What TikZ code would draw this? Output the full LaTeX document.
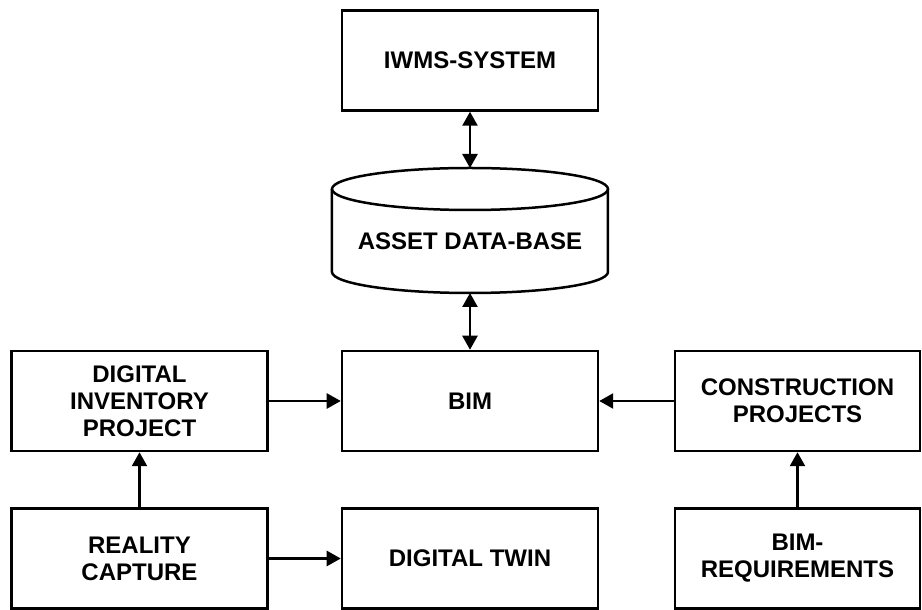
\documentclass[tikz,border=0pt]{standalone}
\usepackage{fontspec}
\setmainfont{Liberation Sans}
\usetikzlibrary{positioning,arrows.meta}
\begin{document}
\begin{tikzpicture}[
        node distance=330pt,  % Distance between the nodes
        >={Triangle[length=14pt,width=15pt]}, % Arrow style
        line width=2.5pt,
        every node/.style={draw, rectangle, line width=2.5pt, minimum height=100pt, minimum width=256pt, align=center, font=\fontsize{24pt}{27pt}\selectfont\bfseries}
    ]
    \useasboundingbox (-470pt,401pt) rectangle (452pt,-209pt);

    % Middle row
    \node (bim) {BIM};
    \node (inventory) [node distance=330.5pt, left of=bim] {DIGITAL\\INVENTORY\\PROJECT};
    \node (construction) [node distance=327.5pt, right of=bim, minimum width=245pt] {CONSTRUCTION\\PROJECTS};

    % Bottom row
    \node (twin) [node distance=157.5pt, below of=bim] {DIGITAL TWIN};
    \node (capture) [node distance=157.5pt, below of=inventory] {REALITY\\CAPTURE};
    \node (requirements) [node distance=157.5pt, below of=construction, minimum width=245pt] {BIM-\\REQUIREMENTS};

    % Database cylinder and IWMS on top
    \node (db) [node distance=160pt, above of=bim, draw=none, outer sep=0pt, minimum height=104pt, minimum width=276pt] {ASSET DATA-BASE};
    \draw (db.north) ellipse [x radius=138pt, y radius=21pt];
    \draw (db.north west) -- ([yshift=21pt]db.south west) arc [start angle=180, end angle=360, x radius=138pt, y radius=21pt] -- (db.north east);
    \node (iwms) [node distance=180.5pt, above of=db] {IWMS-SYSTEM};

    % Draw arrows between the boxes
    \draw[<->] (iwms) -- ([yshift=21pt]db.north);
    \draw[<->] (db.south) -- (bim);
    \draw[->] (inventory) -- (bim);
    \draw[->] (construction) -- (bim);
    \draw[->] (capture) -- (inventory);
    \draw[->] (capture) -- (twin);
    \draw[->] (requirements) -- (construction);

\end{tikzpicture}
\end{document}
